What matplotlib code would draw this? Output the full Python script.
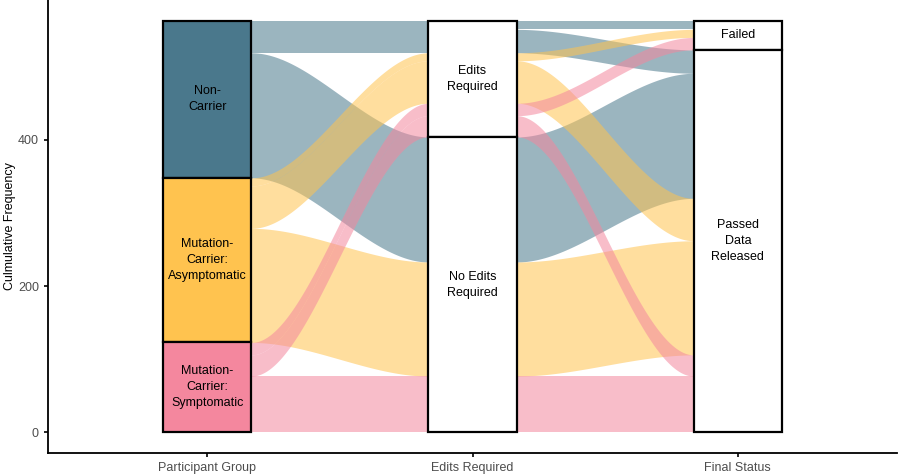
import numpy as np
import matplotlib
matplotlib.use("Agg")
import matplotlib.pyplot as plt
from matplotlib.patches import Rectangle

plt.rcParams['font.family'] = ['Liberation Sans', 'DejaVu Sans']

# axes and strata (top to bottom within each axis)
axes_names = ['Participant Group', 'Edits Required', 'Final Status']
strata = [
    ['Non-Carrier', 'Mutation-Carrier: Asymptomatic', 'Mutation-Carrier: Symptomatic'],
    ['Edits Required', 'No Edits Required'],
    ['Failed', 'Passed Data Released'],
]
strata_labels = [
    ['Non-\nCarrier', 'Mutation-\nCarrier:\nAsymptomatic', 'Mutation-\nCarrier:\nSymptomatic'],
    ['Edits\nRequired', 'No Edits\nRequired'],
    ['Failed', 'Passed\nData\nReleased'],
]

# alluvia: (group, edits, final status, count)
alluvia_group = ['Non-Carrier', 'Non-Carrier', 'Non-Carrier',
                 'Mutation-Carrier: Asymptomatic', 'Mutation-Carrier: Asymptomatic',
                 'Mutation-Carrier: Asymptomatic',
                 'Mutation-Carrier: Symptomatic', 'Mutation-Carrier: Symptomatic',
                 'Mutation-Carrier: Symptomatic']
alluvia_edits = ['Edits Required', 'Edits Required', 'No Edits Required'] * 3
alluvia_final = ['Failed', 'Passed Data Released', 'Passed Data Released'] * 3
alluvia_count = [12, 32, 171, 11, 58, 156, 17, 29, 77]

group_colors = {
    'Non-Carrier': '#4A788C',
    'Mutation-Carrier: Asymptomatic': '#FFC34F',
    'Mutation-Carrier: Symptomatic': '#F4879E',
}

total = sum(alluvia_count)
width = 1 / 3
n = len(alluvia_count)
values = [alluvia_group, alluvia_edits, alluvia_final]

# compute lode positions: strata stacked from top, alluvia in global order inside
lode_top = np.zeros((3, n))
strata_bounds = []
for a in range(3):
    top = total
    bounds = []
    for s in strata[a]:
        s_top = top
        for i in range(n):
            if values[a][i] == s:
                lode_top[a, i] = top
                top -= alluvia_count[i]
        bounds.append((top, s_top))
    strata_bounds.append(bounds)

fig = plt.figure(figsize=(8.99, 4.76), dpi=100)
ax = fig.add_axes([48 / 899, 23 / 476, 849 / 899, 453 / 476])

t = np.linspace(0, 1, 100)
s_curve = 3 * t ** 2 - 2 * t ** 3
for a in range(2):
    x0 = a + 1 + width / 2
    x1 = a + 2 - width / 2
    xs = x0 + (x1 - x0) * t
    for i in range(n):
        c = alluvia_count[i]
        yt0, yt1 = lode_top[a, i], lode_top[a + 1, i]
        upper = yt0 + (yt1 - yt0) * s_curve
        lower = upper - c
        ax.fill_between(xs, lower, upper, color=group_colors[alluvia_group[i]],
                        alpha=0.55, linewidth=0, zorder=1)

for a in range(3):
    for k, s in enumerate(strata[a]):
        lo, hi = strata_bounds[a][k]
        fc = group_colors[s] if a == 0 else 'white'
        ax.add_patch(Rectangle((a + 1 - width / 2, lo), width, hi - lo,
                               facecolor=fc, edgecolor='black', linewidth=1.6, zorder=3))
        ax.text(a + 1, (lo + hi) / 2, strata_labels[a][k], ha='center', va='center',
                fontsize=9, color='black', linespacing=1.45, zorder=4)

ax.set_xlim(0.4, 3.6)
ax.set_ylim(-total * 0.05, total * 1.05)
ax.set_xticks([1, 2, 3])
ax.set_xticklabels(axes_names)
ax.set_yticks([0, 200, 400])
ax.set_ylabel('Culmulative Frequency', fontsize=9)
ax.yaxis.set_label_coords(-0.038, 0.5)
ax.tick_params(colors='#4D4D4D', labelsize=9, length=3, width=1.2)
ax.tick_params(axis='both', color='black')
for sp in ['top', 'right']:
    ax.spines[sp].set_visible(False)
for sp in ['left', 'bottom']:
    ax.spines[sp].set_linewidth(1.3)

fig.savefig('out.png', dpi=100)
